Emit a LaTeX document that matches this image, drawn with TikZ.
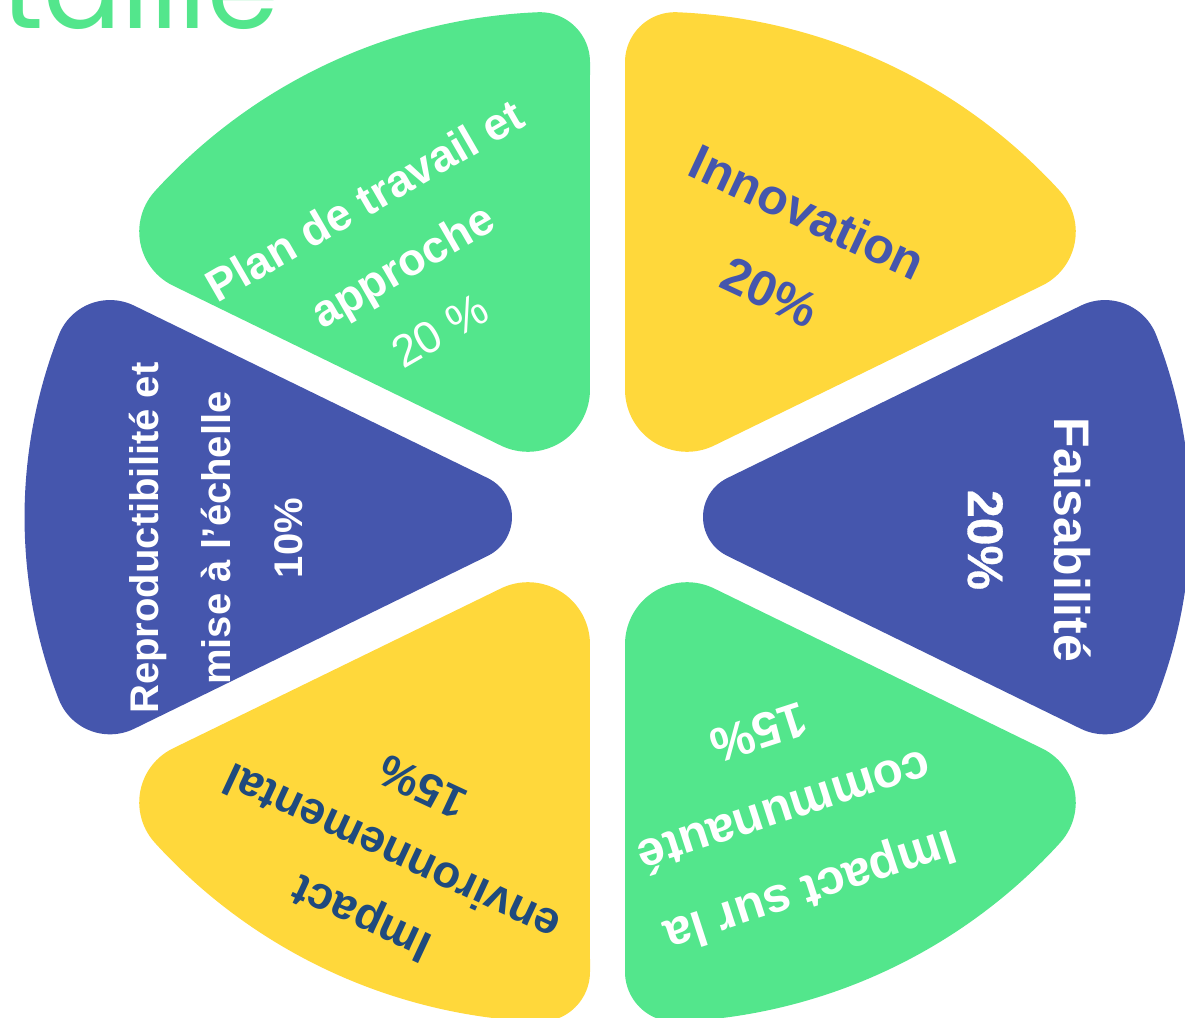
\documentclass[tikz,border=0pt]{standalone}
\usepackage{fontspec}
\setmainfont{Liberation Sans}
\newfontfamily\poppfont{Poppins}
\newfontfamily\medfont[FakeBold=0.6]{Liberation Sans}
\definecolor{cgreen}{HTML}{53E68C}
\definecolor{cyellow}{HTML}{FFD83B}
\definecolor{cblue}{HTML}{4556AD}
\definecolor{cnavy}{HTML}{1F4A7E}
\begin{document}
\begin{tikzpicture}[x=1pt,y=1pt,
  lbl/.style={align=center, inner sep=0pt}]
\useasboundingbox (-607.5,-500) rectangle (577.5,517);
\clip (-607.5,-500) rectangle (577.5,517);
\def\planpath{(-106.7,71.5) arc[start angle=244,end angle=360,radius=62] -- (-17.5,454.8) arc[start angle=0,end angle=92.4,radius=50] arc[start angle=92.4,end angle=137.7,radius=549] arc[start angle=137.7,end angle=244,radius=60] -- cycle}
\def\repropath{(-119.8,-38.9) arc[start angle=-64,end angle=64,radius=43.3] -- (-473.2,211.3) arc[start angle=63.8,end angle=158.7,radius=55] arc[start angle=158.7,end angle=201.3,radius=501.4] arc[start angle=201.3,end angle=296.2,radius=55] -- cycle}
% pieces
\fill[cgreen] \planpath;
\begin{scope}[xscale=-1]\fill[cyellow] \planpath;\end{scope}
\begin{scope}[yscale=-1]\fill[cyellow] \planpath;\end{scope}
\begin{scope}[scale=-1]\fill[cgreen] \planpath;\end{scope}
\fill[cblue] \repropath;
\begin{scope}[xscale=-1]\fill[cblue] \repropath;\end{scope}
% title fragment
\node[anchor=base west, inner sep=0pt, text=cgreen, font=\poppfont\fontsize{116}{116}\selectfont] (title) at (-606.5,488.5) {\llap{dé}taillé};
% labels
\node[lbl, rotate=30, text=white, font=\bfseries\fontsize{45}{75}\selectfont] (plan) at (-205.5,252) {Plan de travail et\\approche\\{\mdseries 20 \%}};
\node[lbl, rotate=-25, text=cblue, font=\bfseries\fontsize{50}{88}\selectfont] (innov) at (181.5,265) {Innovation\\20\%};
\node[lbl, rotate=-90, text=white, font=\bfseries\fontsize{50}{87}\selectfont] (faisab) at (422,-23) {Faisabilité\\{\medfont 20\%}};
\node[lbl, rotate=90, text=white, font=\bfseries\fontsize{40}{72}\selectfont] (repro) at (-391.5,-21) {Reproductibilité et\\mise à l’échelle\\10\%};
\node[lbl, rotate=198, text=white, font=\bfseries\fontsize{49}{84}\selectfont] (commu) at (177.5,-296) {Impact sur la\\communauté\\15\%};
\node[lbl, rotate=155, text=cnavy, font=\bfseries\fontsize{45.5}{73}\selectfont] (env) at (-215.5,-336) {Impact\\environnemental\\15\%};
\end{tikzpicture}
\end{document}
